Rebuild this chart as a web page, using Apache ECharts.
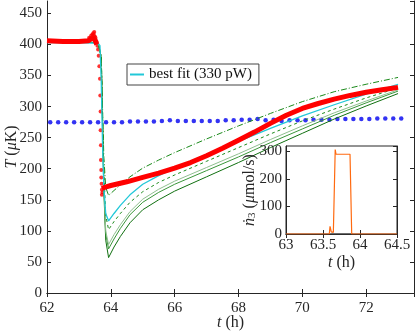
<!DOCTYPE html>
<html>
<head>
<meta charset="utf-8">
<script src="https://cdn.jsdelivr.net/npm/echarts@6/dist/echarts.min.js"></script>
<style>
  html, body { margin: 0; padding: 0; background: #fff; }
  #chart { width: 415px; height: 334px; }
</style>
</head>
<body>
<div id="chart"></div>
<script>
  // model curves, T (uK) against t (h)
  var fitT     = [62, 63, 63.6, 63.66, 63.7, 63.74, 63.78, 63.84, 63.93, 64.1, 64.3, 64.6, 65, 65.5, 66, 67, 68, 69, 70, 71, 72, 73];
  var fitBest  = [403, 403, 402, 398, 340, 240, 170, 128, 116, 128, 141, 158, 175, 189, 201, 223, 244, 265, 285, 303, 320, 336];
  var fitHigh  = [404, 404, 403, 400, 380, 300, 220, 170, 157, 165, 174, 187, 201, 214, 226, 248, 269, 289, 308, 324, 336, 347];
  var fitMid   = [404, 404, 403, 400, 380, 290, 200, 125, 102, 115, 128, 146, 163, 178, 190, 212, 234, 256, 277, 296, 314, 330];
  var fitLowA  = [404, 404, 403, 400, 380, 280, 180, 100, 78, 94, 110, 131, 151, 167, 180, 202, 224, 247, 269, 290, 309, 327];
  var fitLowB  = [404, 404, 403, 400, 380, 280, 175, 95, 71, 87, 104, 126, 146, 162, 175, 197, 219, 242, 264, 286, 306, 325];
  var fitLow   = [404, 404, 403, 400, 380, 275, 165, 85, 57, 74, 91, 113, 134, 150, 164, 187, 210, 234, 257, 280, 301, 321];

  // measured temperature (red)
  var measT = [62, 62.5, 63, 63.3, 63.4, 63.5, 63.56, 63.62, 63.72, 63.8, 64, 64.5, 65, 65.5, 66, 66.5, 67, 67.5, 68, 68.5, 69, 69.5, 70, 70.5, 71, 71.5, 72, 72.5, 73];
  var measV = [406, 405, 405, 406, 410, 408, 400, null, 168, 170, 173, 179, 186, 193, 201, 210, 221, 233, 246, 259, 273, 286, 297, 305, 312, 318, 323, 327, 331];
  var dropT = [63.32, 63.38, 63.42, 63.45, 63.47, 63.48, 63.5, 63.52, 63.55, 63.58, 63.6, 63.62, 63.64, 63.66, 63.67, 63.68, 63.68, 63.69, 63.69, 63.7, 63.7, 63.71, 63.72, 63.72, 63.74];
  var dropV = [411, 414, 416, 418, 415, 420, 413, 411, 405, 398, 392, 382, 365, 345, 318, 292, 262, 238, 214, 198, 186, 176, 166, 158, 162];

  // blue dotted reference
  var refT = [62.1, 62.35, 62.6, 62.85, 63.1, 63.35, 63.6, 63.85, 64.1, 64.35, 64.6, 64.85, 65.1, 65.35, 65.6, 65.85, 66.1,
              66.35, 66.6, 66.85, 67.1, 67.35, 67.6, 67.85, 68.1, 68.35, 68.6, 68.85, 69.1, 69.35, 69.6, 69.85, 70.1,
              70.35, 70.6, 70.85, 71.1, 71.35, 71.6, 71.85, 72.1, 72.35, 72.6, 72.85, 73.1];
  var refV = [275, 275, 275, 275, 275, 275, 275, 275, 275, 275, 276, 276, 276, 276, 277, 278, 277,
              277, 277, 277, 277, 277, 278, 278, 279, 279, 280, 278, 279, 277, 278, 278, 278,
              279, 279, 279, 280, 280, 280, 280, 280, 281, 281, 281, 281];

  // inset: n3 dot (umol/s)
  var injT = [63, 63.585, 63.595, 63.605, 63.612, 63.64, 63.662, 63.665, 63.676, 63.865, 63.888, 64.5];
  var injV = [0, 0, 28, 28, 8, 6, 6, 307, 290, 290, 0, 0];
  var offT = [63.6, 63.9];
  var offV = [0, 0];

  function pairs(xs, ys) {
    return xs.map(function (x, i) { return [x, ys[i] == null ? '-' : ys[i]]; });
  }

  var font = 'Liberation Serif';
  var ink = '#262626';

  function axis(extra) {
    var a = {
      type: 'value',
      nameMoveOverlap: false,
      axisLine: { show: true, lineStyle: { color: ink, width: 1 } },
      axisTick: { show: true, inside: true, length: 4, lineStyle: { color: ink } },
      axisLabel: { color: ink, fontFamily: font, fontSize: 15, showMaxLabel: false },
      splitLine: { show: false }
    };
    for (var k in extra) a[k] = extra[k];
    return a;
  }

  function nameStyle(extraRich) {
    var rich = { it: { fontStyle: 'italic', fontFamily: font, fontSize: 16 } };
    for (var k in extraRich) rich[k] = extraRich[k];
    return { color: ink, fontFamily: font, fontSize: 16, rich: rich };
  }

  var chart = echarts.init(document.getElementById('chart'));
  var option = {
    animation: false,
    backgroundColor: '#fff',
    grid: [
      { left: 47, right: 1, top: 1, bottom: 41, outerBoundsMode: 'none' },
      { left: 286, right: 18, top: 146, bottom: 100, outerBoundsMode: 'none', show: true, backgroundColor: '#fff', borderColor: ink, z: 5 }
    ],
    legend: {
      data: ['best fit (330 pW)'],
      left: 127, top: 64,
      icon: 'rect', itemWidth: 14, itemHeight: 2, itemGap: 2,
      padding: [3, 7, 3, 3],
      borderColor: '#444', borderWidth: 1, backgroundColor: '#fff',
      textStyle: { fontFamily: font, fontSize: 15, color: '#111' }
    },
    xAxis: [
      axis({ gridIndex: 0, min: 62, max: 73.5, interval: 2, position: 'bottom',
        name: '{it|t} (h)', nameLocation: 'middle', nameGap: 22, nameTextStyle: nameStyle({}) }),
      axis({ gridIndex: 0, min: 62, max: 73.5, interval: 2, position: 'top', axisLabel: { show: false } }),
      axis({ gridIndex: 1, min: 63, max: 64.5, interval: 0.5, position: 'bottom', z: 6,
        axisLabel: { color: ink, fontFamily: font, fontSize: 15, margin: 4 },
        name: '{it|t} (h)', nameLocation: 'middle', nameGap: 21, nameTextStyle: nameStyle({}) }),
      axis({ gridIndex: 1, min: 63, max: 64.5, interval: 0.5, position: 'top', z: 6, axisLabel: { show: false } })
    ],
    yAxis: [
      axis({ gridIndex: 0, min: 0, max: 470, interval: 50, position: 'left',
        axisLabel: { color: ink, fontFamily: font, fontSize: 15, margin: 5, showMaxLabel: false },
        name: '{it|T} ({it|\u03bc}K)', nameLocation: 'middle', nameGap: 27, nameTextStyle: nameStyle({}) }),
      axis({ gridIndex: 0, min: 0, max: 470, interval: 50, position: 'right', axisLabel: { show: false } }),
      axis({ gridIndex: 1, min: 0, max: 320, interval: 100, position: 'left', z: 6,
        axisLabel: { color: ink, fontFamily: font, fontSize: 15, margin: 4, showMaxLabel: false },
        name: '{it|\u1e45}{sub|3} ({it|\u03bc}mol/s)', nameLocation: 'middle', nameGap: 28,
        nameTextStyle: nameStyle({ sub: { fontFamily: font, fontSize: 11, verticalAlign: 'bottom' } }) }),
      axis({ gridIndex: 1, min: 0, max: 320, interval: 100, position: 'right', z: 6, axisLabel: { show: false } })
    ],
    series: [
      { type: 'line', data: pairs(fitT, fitLow), showSymbol: false, lineStyle: { color: '#107010', width: 1 } },
      { type: 'line', data: pairs(fitT, fitLowB), showSymbol: false, lineStyle: { color: '#3a963a', width: 1 } },
      { type: 'line', data: pairs(fitT, fitLowA), showSymbol: false, lineStyle: { color: '#8fbf8f', width: 1 } },
      { type: 'line', data: pairs(fitT, fitMid), showSymbol: false, lineStyle: { color: '#1a8a1a', width: 1, type: [3, 3] } },
      { type: 'line', data: pairs(fitT, fitHigh), showSymbol: false, lineStyle: { color: '#1a8a1a', width: 1, type: [6, 2, 1, 2] } },
      { type: 'line', name: 'best fit (330 pW)', data: pairs(fitT, fitBest), showSymbol: false, itemStyle: { color: '#22c8d8' }, lineStyle: { color: '#22c8d8', width: 1.3 } },
      { type: 'line', data: pairs(measT, measV), showSymbol: false, connectNulls: false, lineStyle: { color: '#ff0000', width: 5 } },
      { type: 'scatter', data: pairs(dropT, dropV), symbolSize: 4, itemStyle: { color: '#ff0000' } },
      { type: 'scatter', data: pairs(refT, refV), symbolSize: 4.5, itemStyle: { color: '#0000f0' } },
      { type: 'line', xAxisIndex: 2, yAxisIndex: 2, z: 10, data: pairs(offT, offV), showSymbol: false, lineStyle: { color: '#444', width: 1 } },
      { type: 'line', xAxisIndex: 2, yAxisIndex: 2, z: 11, data: pairs(injT, injV), showSymbol: false, lineStyle: { color: '#ff6a10', width: 1.2 } }
    ]
  };
  chart.setOption(option);
</script>
</body>
</html>
